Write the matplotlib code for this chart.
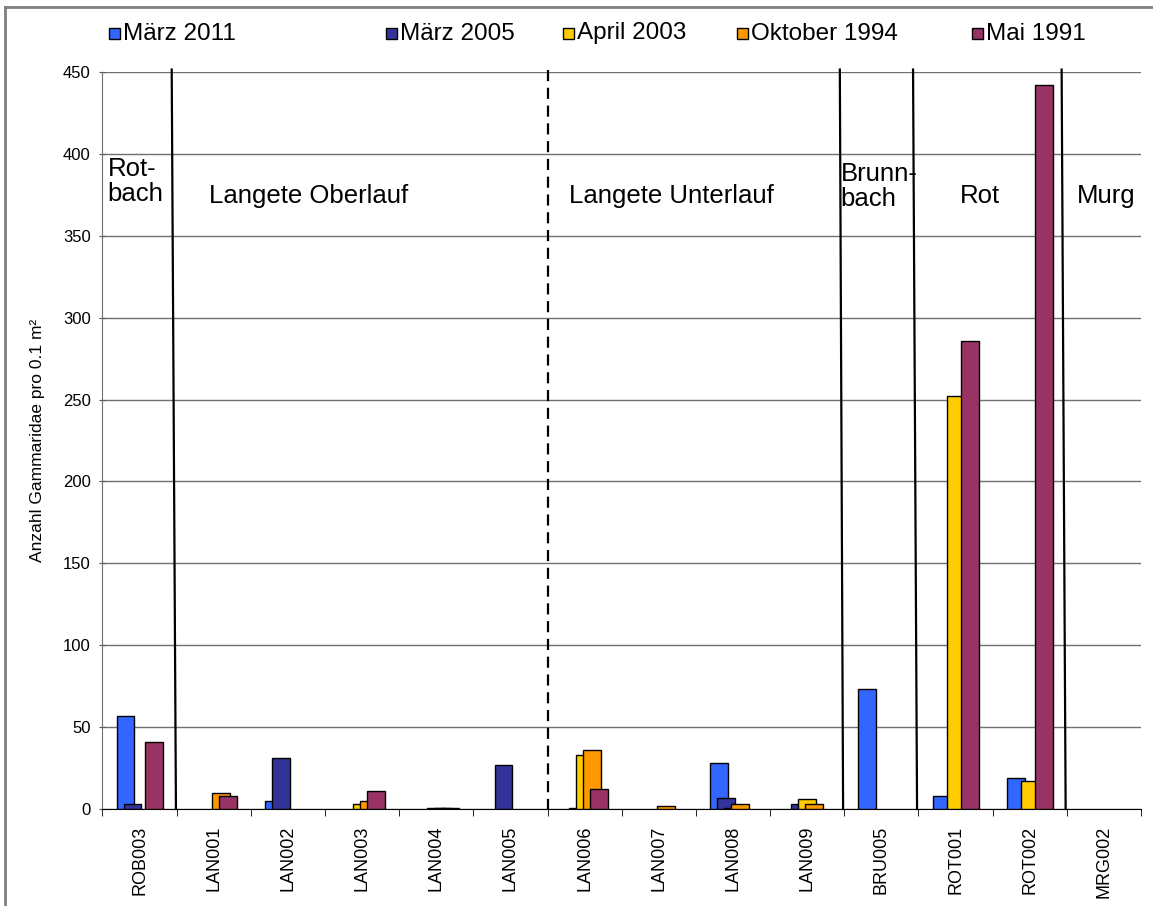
import matplotlib
matplotlib.use("Agg")
import matplotlib.pyplot as plt
import numpy as np
from matplotlib.patches import Rectangle
from matplotlib.lines import Line2D

plt.rcParams['font.family'] = ['Liberation Sans', 'DejaVu Sans']

# Sampling sites and Gammaridae counts per campaign
sites = ["ROB003", "LAN001", "LAN002", "LAN003", "LAN004", "LAN005", "LAN006",
         "LAN007", "LAN008", "LAN009", "BRU005", "ROT001", "ROT002", "MRG002"]

series_names = ["März 2011", "März 2005", "April 2003", "Oktober 1994", "Mai 1991"]
maerz_2011 = [57, 0, 5, 0, 0, 0, 0, 0, 28, 0, 73, 8, 19, 0]
maerz_2005 = [3, 0, 31, 0, 0, 27, 0.5, 0, 7, 3, 0, 0, 0, 0]
april_2003 = [0, 0, 0, 3, 0.5, 0, 33, 0, 0.5, 6, 0, 252, 17, 0]
oktober_1994 = [0, 10, 0, 5, 0.5, 0, 36, 2, 3, 3, 0, 0, 0, 0]
mai_1991 = [41, 8, 0, 11, 0.5, 0, 12, 0, 0, 0, 0, 286, 442, 0]
drawn = [  # which bars exist (blank cells are not drawn)
    [1, 0, 1, 0, 0, 0, 0, 0, 1, 0, 1, 1, 1, 0],
    [1, 0, 1, 0, 0, 1, 1, 0, 1, 1, 0, 0, 0, 0],
    [0, 0, 0, 1, 1, 0, 1, 0, 1, 1, 0, 1, 1, 0],
    [0, 1, 0, 1, 1, 0, 1, 1, 1, 1, 0, 0, 0, 0],
    [1, 1, 0, 1, 1, 0, 1, 0, 0, 0, 0, 1, 1, 0],
]
series = [maerz_2011, maerz_2005, april_2003, oktober_1994, mai_1991]
colors = ["#3366FF", "#333399", "#FFCC00", "#FF9900", "#993366"]

# Region labels: (text, x, y, ha)
regions = [("Rot-\nbach", -0.43, 383, "left"),
           ("Langete Oberlauf", 2.28, 374, "center"),
           ("Langete Unterlauf", 7.17, 374, "center"),
           ("Brunn-\nbach", 9.45, 380, "left"),
           ("Rot", 11.33, 374, "center"),
           ("Murg", 13.03, 374, "center")]
# Region separators: (boundary, top shift, bottom shift, dashed)
separators = [(0.5, -0.067, -0.01, False),
              (5.5, 0.0, 0.0, True),
              (9.5, -0.06, -0.016, False),
              (10.5, -0.073, -0.019, False),
              (12.5, -0.07, -0.016, False)]

W, H = 1153, 906
fig = plt.figure(figsize=(W / 100, H / 100), dpi=100)
ax = fig.add_axes([102.5 / W, (H - 809) / H, (1141 - 102.5) / W, (809 - 72) / H])

x = np.arange(len(sites))
step = 0.095
width = 0.24
for k, (vals, col) in enumerate(zip(series, colors)):
    off = (k - 2) * step
    for i, v in enumerate(vals):
        if drawn[k][i]:
            ax.bar(x[i] + off, v, width=width, color=col, edgecolor="black",
                   linewidth=1.0, zorder=3 + k * 0.01)

ax.set_xlim(-0.5, len(sites) - 0.5)
ax.set_ylim(0, 450)
ax.set_yticks(np.arange(0, 451, 50))
ax.yaxis.grid(True, color="#707070", linewidth=1.0, zorder=0)
ax.set_axisbelow(True)
for s in ["top", "right"]:
    ax.spines[s].set_visible(False)
ax.spines["left"].set_color("#707070")
ax.spines["bottom"].set_color("black")

ax.set_xticks(x)
ax.set_xticklabels(sites, rotation=90, fontsize=13)
ax.tick_params(axis="x", which="major", length=0, pad=12)
ax.set_xticks(np.arange(-0.5, len(sites)), minor=True)
ax.tick_params(axis="x", which="minor", length=5, direction="out", color="black")
ax.tick_params(axis="y", length=5, direction="inout", labelsize=12, pad=6, color="#555555")

ax.set_ylabel("Anzahl Gammaridae pro 0.1 m²", fontsize=12.5)
ax.yaxis.set_label_coords(-0.055, 0.5)

for txt, tx, ty, ha in regions:
    ax.text(tx, ty, txt, fontsize=18.5, ha=ha, va="center", linespacing=1.05, zorder=6)

for b, dt, db, dashed in separators:
    ax.add_line(Line2D([b + dt, b + db], [451.5, 0], color="black",
                       linewidth=1.6, linestyle=(0, (5, 3)) if dashed else "-",
                       clip_on=False, zorder=5))

# Legend across the top
leg_x = [109, 386, 563, 737, 972]
for name, col, lx in zip(series_names, colors, leg_x):
    fig.patches.append(Rectangle((lx / W, (H - 39) / H), 11 / W, 11 / H,
                                 transform=fig.transFigure, facecolor=col,
                                 edgecolor="black", linewidth=1.0))
    fig.text((lx + 14) / W, (H - 33.5) / H, name, fontsize=17.5, va="center", ha="left")

# Chart frame (left and top edges)
fig.add_artist(Line2D([5 / W, 5 / W], [0, (H - 7) / H], color="#808080", linewidth=2))
fig.add_artist(Line2D([5 / W, 1], [(H - 7) / H, (H - 7) / H], color="#808080", linewidth=2))

fig.savefig("out.png", dpi=100)
